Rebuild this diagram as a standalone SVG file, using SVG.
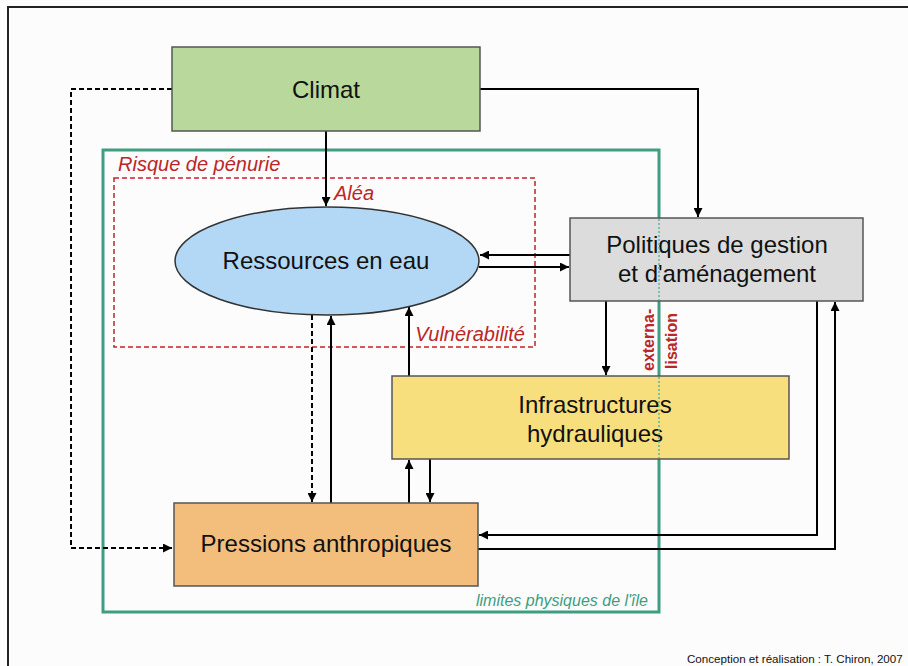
<svg xmlns="http://www.w3.org/2000/svg" width="908" height="666" viewBox="0 0 908 666">
<defs>
<marker id="ah" viewBox="0 0 10 10" refX="10" refY="5" markerWidth="9" markerHeight="9" markerUnits="userSpaceOnUse" orient="auto"><path d="M0,0 L10,5 L0,10 z" fill="#000"/></marker>
<style>
.box{stroke:#555;stroke-width:1.5}
.lbl{font-family:"Liberation Sans",Arial,sans-serif;font-size:24px;fill:#111;text-anchor:middle}
.red{font-family:"Liberation Sans",Arial,sans-serif;font-size:20px;fill:#bb2628;font-style:italic}
.c{fill:none;stroke:#000;stroke-width:2}
.d{fill:none;stroke:#000;stroke-width:2;stroke-dasharray:5 3}
</style>
</defs>
<rect x="0" y="0" width="908" height="666" fill="#fcfcfc"/>
<rect x="8" y="7" width="910" height="680" fill="none" stroke="#222" stroke-width="2"/>
<g id="zone-ile">
<rect x="103" y="150" width="556" height="462" fill="none" stroke="#3d9e82" stroke-width="3"/>
<text x="648" y="606" font-family="Liberation Sans, Arial, sans-serif" font-size="16" font-style="italic" fill="#3d9e82" text-anchor="end">limites physiques de l'île</text>
</g>
<g id="zone-risque">
<rect x="114" y="178" width="421" height="169" fill="none" stroke="#bb2628" stroke-width="1.5" stroke-dasharray="5 3"/>
<text class="red" x="118" y="171">Risque de pénurie</text>
<text class="red" x="334" y="200">Aléa</text>
<text class="red" x="525" y="341" text-anchor="end">Vulnérabilité</text>
</g>
<g id="connectors">
<path class="d" d="M172,89 H71 V548 H172" marker-end="url(#ah)"/>
<path class="c" d="M326,131 V206" marker-end="url(#ah)"/>
<path class="c" d="M480,89 H698 V217" marker-end="url(#ah)"/>
<path class="c" d="M570,255 H480" marker-end="url(#ah)"/>
<path class="c" d="M479,267 H569" marker-end="url(#ah)"/>
<path class="c" d="M606,301 V375" marker-end="url(#ah)"/>
<path class="d" d="M312,315 V502" marker-end="url(#ah)"/>
<path class="c" d="M331,503 V316" marker-end="url(#ah)"/>
<path class="c" d="M409,376 V307" marker-end="url(#ah)"/>
<path class="c" d="M409,503 V460" marker-end="url(#ah)"/>
<path class="c" d="M430,459 V502" marker-end="url(#ah)"/>
<path class="c" d="M817,301 V535 H479" marker-end="url(#ah)"/>
<path class="c" d="M478,549 H835 V302" marker-end="url(#ah)"/>
</g>
<g id="climat">
<rect class="box" x="172" y="47" width="308" height="84" fill="#b9d89b"/>
<text class="lbl" x="326" y="98">Climat</text>
</g>
<g id="ressources">
<ellipse cx="327" cy="261" rx="152" ry="54" fill="#b3d8f6" stroke="#333" stroke-width="1.5"/>
<text class="lbl" x="326" y="269">Ressources en eau</text>
</g>
<g id="politiques">
<rect class="box" x="570" y="218" width="293" height="83" fill="#dcdcdc"/>
<text class="lbl" x="717" y="253">Politiques de gestion</text>
<text class="lbl" x="717" y="282">et d'aménagement</text>
</g>
<g id="infrastructures">
<rect class="box" x="392" y="376" width="397" height="83" fill="#f8df7e"/>
<text class="lbl" x="595" y="413">Infrastructures</text>
<text class="lbl" x="595" y="442">hydrauliques</text>
</g>
<g id="pressions">
<rect class="box" x="174" y="503" width="304" height="83" fill="#f3bd7c"/>
<text class="lbl" x="326" y="552">Pressions anthropiques</text>
</g>
<g id="limite-pointillee">
<path d="M659,219 V300 M659,377 V458" stroke="#5fb39a" stroke-width="1.5" stroke-dasharray="2 2" fill="none"/>
</g>
<g id="externalisation" font-family="Liberation Sans, Arial, sans-serif" font-size="16" font-weight="bold" fill="#bb2628">
<text transform="translate(654,371) rotate(-90)">externa-</text>
<text transform="translate(677,369) rotate(-90)">lisation</text>
</g>
<text x="687" y="663" font-family="Liberation Sans, Arial, sans-serif" font-size="11.6" fill="#111">Conception et réalisation : T. Chiron, 2007</text>
</svg>
